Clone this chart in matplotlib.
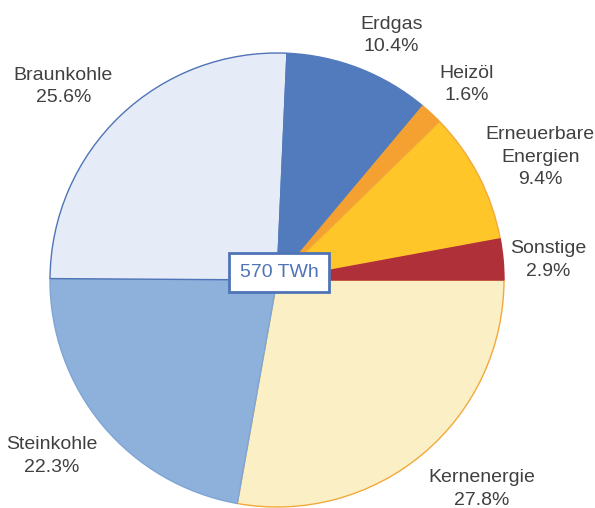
import numpy as np
import matplotlib.pyplot as plt

plt.rcParams['font.family'] = ['Liberation Sans', 'DejaVu Sans']

# Data (clockwise from 3 o'clock)
labels = ['Kernenergie', 'Steinkohle', 'Braunkohle', 'Erdgas', 'Heizöl',
          'Erneuerbare\nEnergien', 'Sonstige']
shares = [27.8, 22.3, 25.6, 10.4, 1.6, 9.4, 2.9]
colors = ['#FBEFC5', '#8DB1DB', '#E6ECF7', '#527BBD', '#F4A131', '#FFC629', '#B0303A']
edges = ['#F2A93B', '#7FA5D5', '#4F74B8', '#527BBD', '#F4A131', '#F2A93B', '#B0303A']
total_label = '570 TWh'

# label placement: (distance in radii, angle in degrees)
label_pos = [(1.29, -45.6), (1.26, -142), (1.27, 137.8), (1.19, 64.9),
             (1.20, 45.9), (1.28, 25.0), (1.20, 4.2)]

fig = plt.figure(figsize=(5.95, 5.08), dpi=100)
ax = fig.add_axes([0, 0, 1, 1])

wedges, _ = ax.pie(shares, colors=colors, startangle=0, counterclock=False,
                   radius=1.0, wedgeprops=dict(linewidth=1.0))
for w, ec in zip(wedges, edges):
    w.set_edgecolor(ec)

for lab, val, (r, ang) in zip(labels, shares, label_pos):
    a = np.deg2rad(ang)
    ax.text(r * np.cos(a), r * np.sin(a), f'{lab}\n{val:.1f}%',
            ha='center', va='center', fontsize=14, color='#404040',
            linespacing=1.42)

ax.text(0.01, 0.033, total_label, ha='center', va='center', fontsize=14,
        color='#4F74B8',
        bbox=dict(boxstyle='square,pad=0.55', facecolor='white',
                  edgecolor='#4F74B8', linewidth=2))

ax.set_xlim(-277 / 227, 318 / 227)
ax.set_ylim(-228 / 227, 280 / 227)
ax.set_aspect('equal')
ax.axis('off')

plt.savefig('out.png', dpi=100)
